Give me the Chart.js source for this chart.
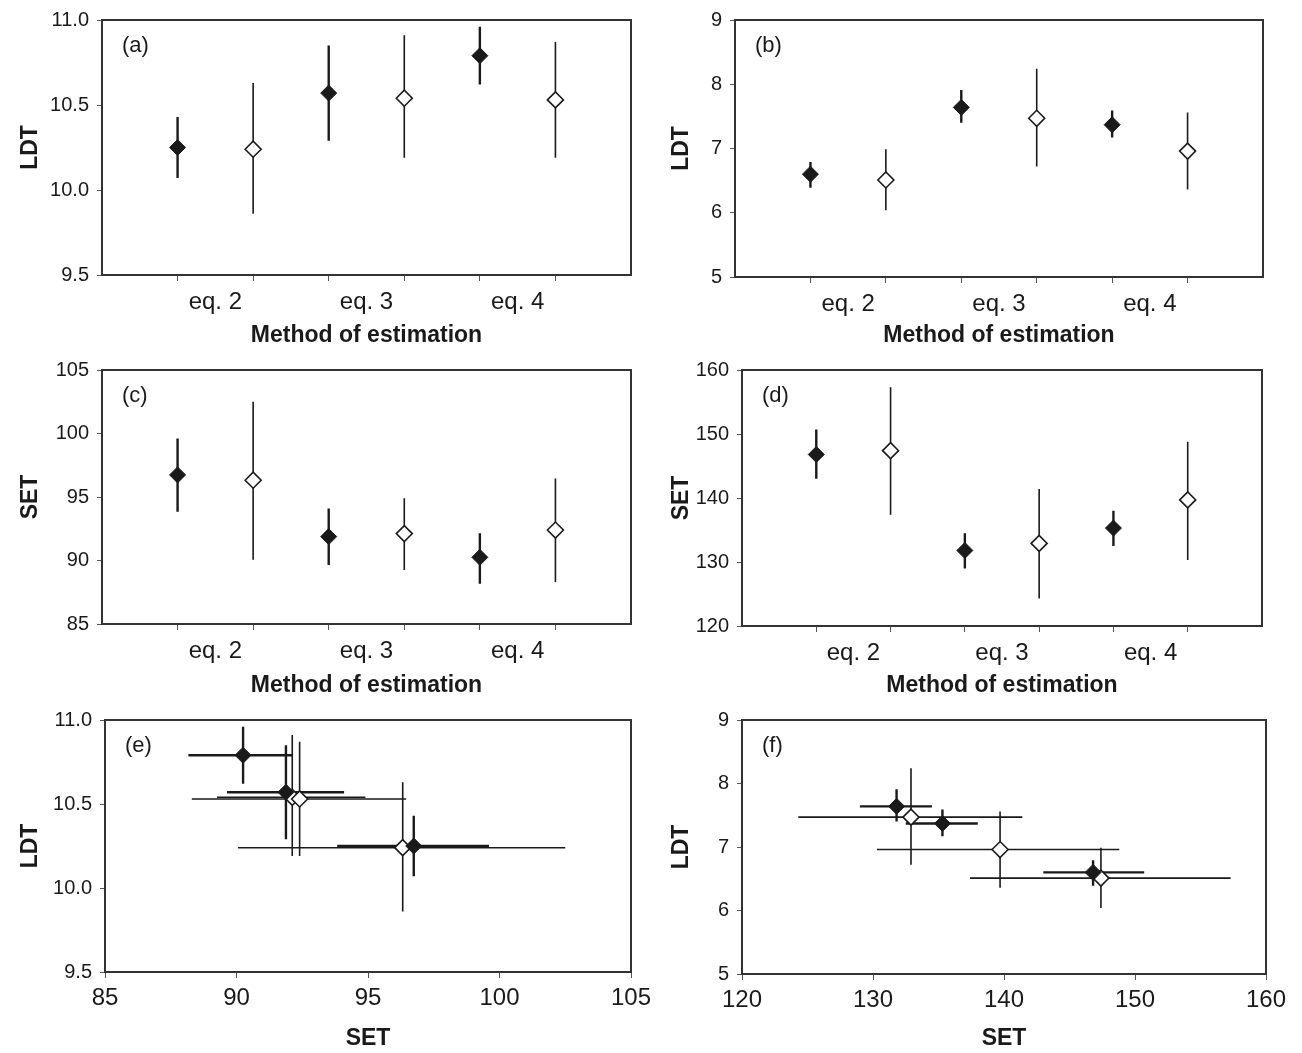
<!DOCTYPE html>
<html>
<head>
<meta charset="utf-8">
<script src="https://cdn.jsdelivr.net/npm/chart.js@4"></script>
<style>
  body { margin: 0; background: #fff; }
  .cell { position: absolute; }
</style>
</head>
<body>
<div class="cell" style="left:0;top:0"><canvas id="pa" width="651" height="350"></canvas></div>
<div class="cell" style="left:651px;top:0"><canvas id="pb" width="651" height="350"></canvas></div>
<div class="cell" style="left:0;top:350px"><canvas id="pc" width="651" height="350"></canvas></div>
<div class="cell" style="left:651px;top:350px"><canvas id="pd" width="651" height="350"></canvas></div>
<div class="cell" style="left:0;top:700px"><canvas id="pe" width="651" height="353"></canvas></div>
<div class="cell" style="left:651px;top:700px"><canvas id="pf" width="651" height="353"></canvas></div>
<script>
const methods = ["eq. 2", "eq. 3", "eq. 4"];

// first data set: LDT (panels a, e)
const ldtA = [10.25, 10.57, 10.79];
const ldtALo = [10.07, 10.29, 10.62];
const ldtAHi = [10.43, 10.85, 10.96];
const ldtAOpen = [10.24, 10.54, 10.53];
const ldtAOpenLo = [9.86, 10.19, 10.19];
const ldtAOpenHi = [10.63, 10.91, 10.87];

// first data set: SET (panels c, e)
const setA = [96.74, 91.88, 90.25];
const setALo = [93.83, 89.64, 88.17];
const setAHi = [99.6, 94.09, 92.15];
const setAOpen = [96.32, 92.12, 92.4];
const setAOpenLo = [90.06, 89.26, 88.3];
const setAOpenHi = [102.5, 94.9, 96.45];

// second data set: LDT (panels b, f)
const ldtB = [6.6, 7.64, 7.37];
const ldtBLo = [6.39, 7.4, 7.17];
const ldtBHi = [6.79, 7.91, 7.59];
const ldtBOpen = [6.51, 7.47, 6.96];
const ldtBOpenLo = [6.04, 6.72, 6.36];
const ldtBOpenHi = [6.99, 8.24, 7.56];

// second data set: SET (panels d, f)
const setB = [146.8, 131.8, 135.3];
const setBLo = [143.0, 129.0, 132.5];
const setBHi = [150.7, 134.5, 138.0];
const setBOpen = [147.4, 132.9, 139.7];
const setBOpenLo = [137.4, 124.3, 130.3];
const setBOpenHi = [157.3, 141.4, 148.8];

const family = "'Liberation Sans', Arial, sans-serif";
const ink = "#1a1a1a";

// frame round the plot area + panel letter
const panelPlugin = {
  id: "panel",
  afterDraw(chart, args, opts) {
    const { ctx, chartArea: a } = chart;
    ctx.save();
    ctx.strokeStyle = "#333";
    ctx.lineWidth = 2;
    ctx.strokeRect(a.left, a.top, a.right - a.left, a.bottom - a.top);
    ctx.fillStyle = ink;
    ctx.font = "22px " + family;
    ctx.textBaseline = "middle";
    ctx.fillText(opts.letter, a.left + 20, a.top + 26);
    ctx.restore();
  }
};
Chart.register(panelPlugin);

const markers = (pts, filled) => ({
  data: pts,
  pointStyle: "rectRot",
  pointRadius: 8,
  backgroundColor: filled ? ink : "#fff",
  borderColor: ink,
  borderWidth: filled ? 1 : 1.6,
  order: 0
});

const bars = (pts, filled) => ({
  data: pts,
  showLine: true,
  pointRadius: 0,
  borderColor: ink,
  borderWidth: filled ? 2.4 : 1.6,
  order: 1
});

// error segments, separated by gaps
const vSeg = (xs, lo, hi) => xs.flatMap((x, i) => [{ x, y: lo[i] }, { x, y: hi[i] }, { x, y: null }]);
const hSeg = (ys, lo, hi) => ys.flatMap((y, i) => [{ x: lo[i], y }, { x: hi[i], y }, { x: null, y: null }]);

const xFilled = methods.map((m, i) => 2 * i + 1);
const xOpen = methods.map((m, i) => 2 * i + 2);
const catTicks = methods.flatMap((m, i) => [2 * i + 1, 2 * i + 1.5, 2 * i + 2]);

function yAxis(min, max, step, title, width, digits) {
  return {
    min, max,
    ticks: { stepSize: step, color: ink, padding: 8, font: { family, size: 20 },
      callback: v => v.toFixed(digits) },
    grid: { drawOnChartArea: false, tickLength: 5, color: "#555" },
    border: { display: false },
    title: { display: true, text: title, color: ink, padding: { top: 17, bottom: 0 },
      font: { family, size: 23, weight: "bold" } },
    afterFit: s => { s.width = width; }
  };
}

function catAxis(height) {
  return {
    type: "linear", min: 0, max: 7,
    afterBuildTicks: s => { s.ticks = catTicks.map(v => ({ value: v })); },
    ticks: { autoSkip: false, maxRotation: 0, color: ink, padding: 7, font: { family, size: 24 },
      callback: v => Number.isInteger(v) ? "" : methods[(v - 1.5) / 2] },
    grid: { drawOnChartArea: false, tickLength: 6,
      tickColor: c => Number.isInteger(c.tick.value) ? "#555" : "rgba(0,0,0,0)" },
    border: { display: false },
    title: { display: true, text: "Method of estimation", color: ink, padding: { top: 0, bottom: 1 },
      font: { family, size: 23, weight: "bold" } },
    afterFit: s => { s.height = height; }
  };
}

function numAxis(min, max, step, height) {
  return {
    type: "linear", min, max,
    ticks: { stepSize: step, color: ink, padding: 6, font: { family, size: 24 } },
    grid: { drawOnChartArea: false, tickLength: 6, color: "#555" },
    border: { display: false },
    title: { display: true, text: "SET", color: ink, padding: { top: 0, bottom: 1 },
      font: { family, size: 23, weight: "bold" } },
    afterFit: s => { s.height = height; s.paddingLeft = 0; s.paddingRight = 0; }
  };
}

function panel(id, letter, area, datasets, x, y) {
  new Chart(document.getElementById(id), {
    type: "scatter",
    data: { datasets },
    options: {
      responsive: false,
      animation: false,
      events: [],
      layout: { padding: { top: area[1], right: 651 - area[2], left: 0, bottom: 0 } },
      scales: { x, y },
      plugins: { legend: { display: false }, tooltip: { enabled: false }, panel: { letter } }
    }
  });
}

function catData(f, fLo, fHi, o, oLo, oHi) {
  return [
    markers(f.map((v, i) => ({ x: xFilled[i], y: v })), true),
    markers(o.map((v, i) => ({ x: xOpen[i], y: v })), false),
    bars(vSeg(xFilled, fLo, fHi), true),
    bars(vSeg(xOpen, oLo, oHi), false)
  ];
}

function xyData(sx, sLo, sHi, ly, lLo, lHi, filled) {
  return [
    markers(sx.map((v, i) => ({ x: v, y: ly[i] })), filled),
    bars(vSeg(sx, lLo, lHi).concat(hSeg(ly, sLo, sHi)), filled)
  ];
}

panel("pa", "(a)", [102, 17, 631, 275],
  catData(ldtA, ldtALo, ldtAHi, ldtAOpen, ldtAOpenLo, ldtAOpenHi),
  catAxis(350 - 275), yAxis(9.5, 11, 0.5, "LDT", 102, 1));

panel("pb", "(b)", [84, 17, 612, 277],
  catData(ldtB, ldtBLo, ldtBHi, ldtBOpen, ldtBOpenLo, ldtBOpenHi),
  catAxis(350 - 277), yAxis(5, 9, 1, "LDT", 84, 0));

panel("pc", "(c)", [102, 17, 631, 274],
  catData(setA, setALo, setAHi, setAOpen, setAOpenLo, setAOpenHi),
  catAxis(350 - 274), yAxis(85, 105, 5, "SET", 102, 0));

panel("pd", "(d)", [91, 17, 611, 276],
  catData(setB, setBLo, setBHi, setBOpen, setBOpenLo, setBOpenHi),
  catAxis(350 - 276), yAxis(120, 160, 10, "SET", 91, 0));

panel("pe", "(e)", [105, 17, 631, 272],
  xyData(setA, setALo, setAHi, ldtA, ldtALo, ldtAHi, true)
    .concat(xyData(setAOpen, setAOpenLo, setAOpenHi, ldtAOpen, ldtAOpenLo, ldtAOpenHi, false)),
  numAxis(85, 105, 5, 353 - 272), yAxis(9.5, 11, 0.5, "LDT", 105, 1));

panel("pf", "(f)", [91, 17, 615, 274],
  xyData(setB, setBLo, setBHi, ldtB, ldtBLo, ldtBHi, true)
    .concat(xyData(setBOpen, setBOpenLo, setBOpenHi, ldtBOpen, ldtBOpenLo, ldtBOpenHi, false)),
  numAxis(120, 160, 10, 353 - 274), yAxis(5, 9, 1, "LDT", 91, 0));
</script>
</body>
</html>
